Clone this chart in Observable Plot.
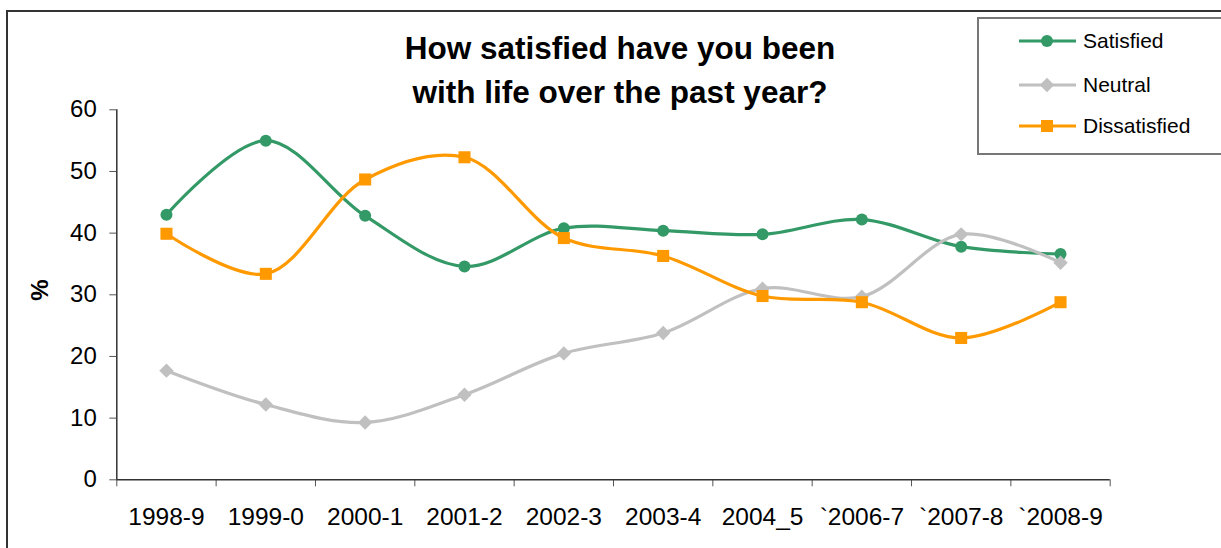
<!DOCTYPE html>
<html>
<head>
<meta charset="utf-8">
<script src="https://cdn.jsdelivr.net/npm/d3@7"></script>
<script src="https://cdn.jsdelivr.net/npm/@observablehq/plot@0.6"></script>
<style>
  body { margin: 0; background: #fff; font-family: "Liberation Sans", Arial, sans-serif; }
  #wrap { position: relative; width: 1221px; height: 548px; overflow: hidden; background: #fff; }
  #chart { position: absolute; left: 0; top: 0; }
  #frame { position: absolute; left: 6px; top: 10px; width: 1400px; height: 700px;
           border-top: 2px solid #333; border-left: 2px solid #333; pointer-events: none; }
  #title { position: absolute; left: 0; top: 26px; width: 1240px; text-align: center;
           font-weight: bold; font-size: 31.5px; line-height: 44px; color: #000; }
  #ylabel { position: absolute; left: 40px; top: 290px; transform: translate(-50%, -50%) rotate(-90deg);
            font-weight: bold; font-size: 24px; color: #000; white-space: nowrap; }
  #legend { position: absolute; left: 977px; top: 17px; width: 400px; height: 134px;
            border: 2px solid #777; background: #fff; }
  .item { position: absolute; left: 0; height: 30px; }
  .item svg { position: absolute; left: 40px; top: 0; }
  .item span { position: absolute; left: 104px; font-size: 21px; line-height: 30px; top: 0; color: #000; white-space: nowrap; }
</style>
</head>
<body>
<div id="wrap">
  <div id="chart"></div>
  <div id="frame"></div>
  <div id="title">How satisfied have you been<br>with life over the past year?</div>
  <div id="ylabel">%</div>
  <div id="legend"></div>
</div>
<script>
const years = ["1998-9", "1999-0", "2000-1", "2001-2", "2002-3", "2003-4", "2004_5", "`2006-7", "`2007-8", "`2008-9"];
const satisfied    = [43.0, 55.0, 42.8, 34.6, 40.8, 40.4, 39.8, 42.2, 37.8, 36.6];
const neutral      = [17.7, 12.2,  9.3, 13.8, 20.5, 23.8, 31.0, 29.7, 39.8, 35.2];
const dissatisfied = [39.9, 33.4, 48.7, 52.3, 39.2, 36.3, 29.8, 28.8, 23.0, 28.8];
const yTicks = [0, 10, 20, 30, 40, 50, 60];

const seriesNames = ["Satisfied", "Neutral", "Dissatisfied"];
const seriesValues = [satisfied, neutral, dissatisfied];
const seriesColors = ["#339966", "#C0C0C0", "#FF9900"];
const seriesSymbols = ["circle", "diamond2", "square"];
const seriesR = [6, 6.5, 6.8];

const rows = seriesNames.flatMap((s, k) =>
  years.map((y, i) => ({ series: s, year: y, i, value: seriesValues[k][i] })));

const xDomain = [-0.5, years.length - 0.5];
const boundaries = d3.range(-0.5, years.length, 1);

const seriesMarks = seriesNames.flatMap((s, k) => {
  const d = rows.filter(r => r.series === s);
  return [
    Plot.line(d, { x: "i", y: "value", stroke: seriesColors[k], strokeWidth: 3.2, curve: "catmull-rom" }),
    Plot.dot(d, { x: "i", y: "value", fill: seriesColors[k], stroke: "none", symbol: seriesSymbols[k], r: seriesR[k] })
  ];
});

const chart = Plot.plot({
  width: 1221,
  height: 548,
  marginLeft: 116.3,
  marginRight: 111.3,
  marginTop: 109.3,
  marginBottom: 68.7,
  x: { type: "linear", domain: xDomain },
  y: { domain: [0, 60] },
  style: { fontFamily: "'Liberation Sans', Arial, sans-serif", background: "transparent", color: "#000", overflow: "visible" },
  marks: [
    Plot.axisY({ ticks: yTicks, tickSize: 7, tickPadding: 13, fontSize: 24, label: null, stroke: "#555" }),
    Plot.axisX({ ticks: boundaries, tickSize: 7, tickFormat: () => "", label: null, stroke: "#555" }),
    Plot.axisX({ ticks: d3.range(years.length), tickSize: 0, tickPadding: 28, tickFormat: i => years[i], fontSize: 24.5, label: null }),
    Plot.ruleX([xDomain[0]], { y1: yTicks[0], y2: yTicks[yTicks.length - 1], stroke: "#333", strokeWidth: 1.5 }),
    Plot.ruleY([yTicks[0]], { x1: xDomain[0], x2: xDomain[1], stroke: "#333", strokeWidth: 1.5 }),
    ...seriesMarks
  ]
});
document.getElementById("chart").appendChild(chart);

// Legend
const legend = document.getElementById("legend");
const rowTops = [6.7, 51, 92];
seriesNames.forEach((s, k) => {
  const item = document.createElement("div");
  item.className = "item";
  item.style.top = rowTops[k] + "px";
  const c = seriesColors[k];
  let marker;
  if (k === 0) marker = `<circle cx="28" cy="15" r="6" fill="${c}"/>`;
  else if (k === 1) marker = `<path d="M28 7.8 L35.2 15 L28 22.2 L20.8 15 Z" fill="${c}"/>`;
  else marker = `<rect x="22" y="9" width="12" height="12" fill="${c}"/>`;
  item.innerHTML = `<svg width="60" height="30"><line x1="0" x2="57" y1="15" y2="15" stroke="${c}" stroke-width="3.2"/>${marker}</svg><span>${s}</span>`;
  legend.appendChild(item);
});
</script>
</body>
</html>
